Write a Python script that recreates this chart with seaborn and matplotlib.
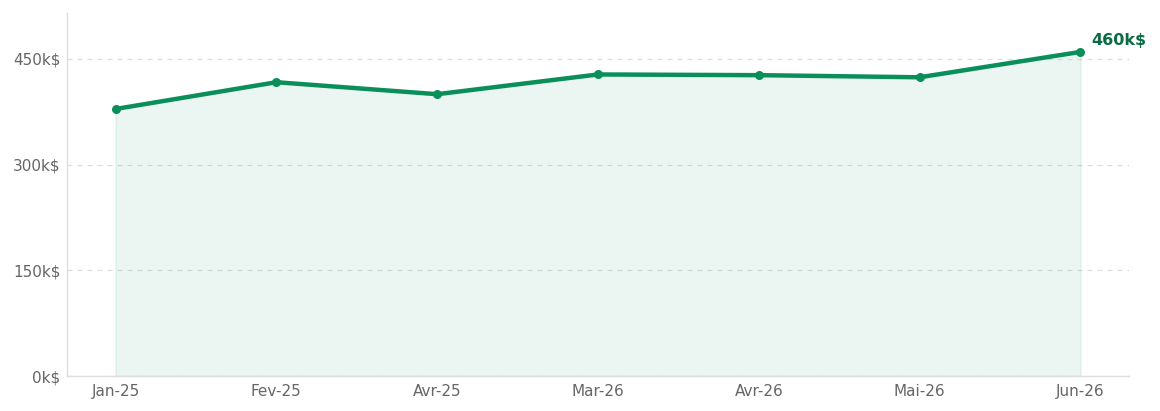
import matplotlib
matplotlib.use("Agg")
from matplotlib import pyplot as plt
import seaborn as sns
import pandas as pd
import numpy as np

months = ["Jan-25", "Fev-25", "Avr-25", "Mar-26", "Avr-26", "Mai-26", "Jun-26"]
revenue_k = [379, 417, 400, 428, 427, 424, 460]
yticks = [0, 150, 300, 450]

df = pd.DataFrame({"month": months, "revenue": revenue_k})
df["pos"] = np.arange(len(df))

sns.set_style("white")
plt.rcParams["font.family"] = ["DejaVu Sans"]

green = "#0a8f5a"
fig, ax = plt.subplots(figsize=(11.6, 4.11), dpi=100,
                       gridspec_kw=dict(left=0.058, right=0.973, top=0.968, bottom=0.085))

ax.fill_between(df["pos"], df["revenue"], 0, color=green, alpha=0.08, linewidth=1.2)
sns.lineplot(data=df, x="pos", y="revenue", color=green, linewidth=3.2,
             marker="o", markersize=6.5, markeredgewidth=0, ax=ax)

last = df.iloc[-1]
ax.annotate(f"{last.revenue}k$", (last.pos, last.revenue), xytext=(8, 3),
            textcoords="offset points", color="#0b6b43", fontsize=11.5,
            fontweight="bold", ha="left", va="bottom")

ax.set_xlim(-0.3, 6.3)
ax.set_ylim(0, 515)
ax.set_xticks(df["pos"], df["month"])
ax.set_yticks(yticks, [f"{v}k$" for v in yticks])
ax.set_xlabel("")
ax.set_ylabel("")
ax.tick_params(axis="both", colors="#666666", labelsize=11, length=0)
ax.tick_params(axis="y", pad=5)
ax.tick_params(axis="x", pad=6)
ax.grid(axis="y", linestyle=(0, (4, 4)), color="#dddddd", linewidth=0.9)
ax.grid(axis="x", visible=False)
for side in ["top", "right"]:
    ax.spines[side].set_visible(False)
for side in ["left", "bottom"]:
    ax.spines[side].set_color("#dddddd")
    ax.spines[side].set_linewidth(1.0)

fig.savefig("out.png", dpi=100)
